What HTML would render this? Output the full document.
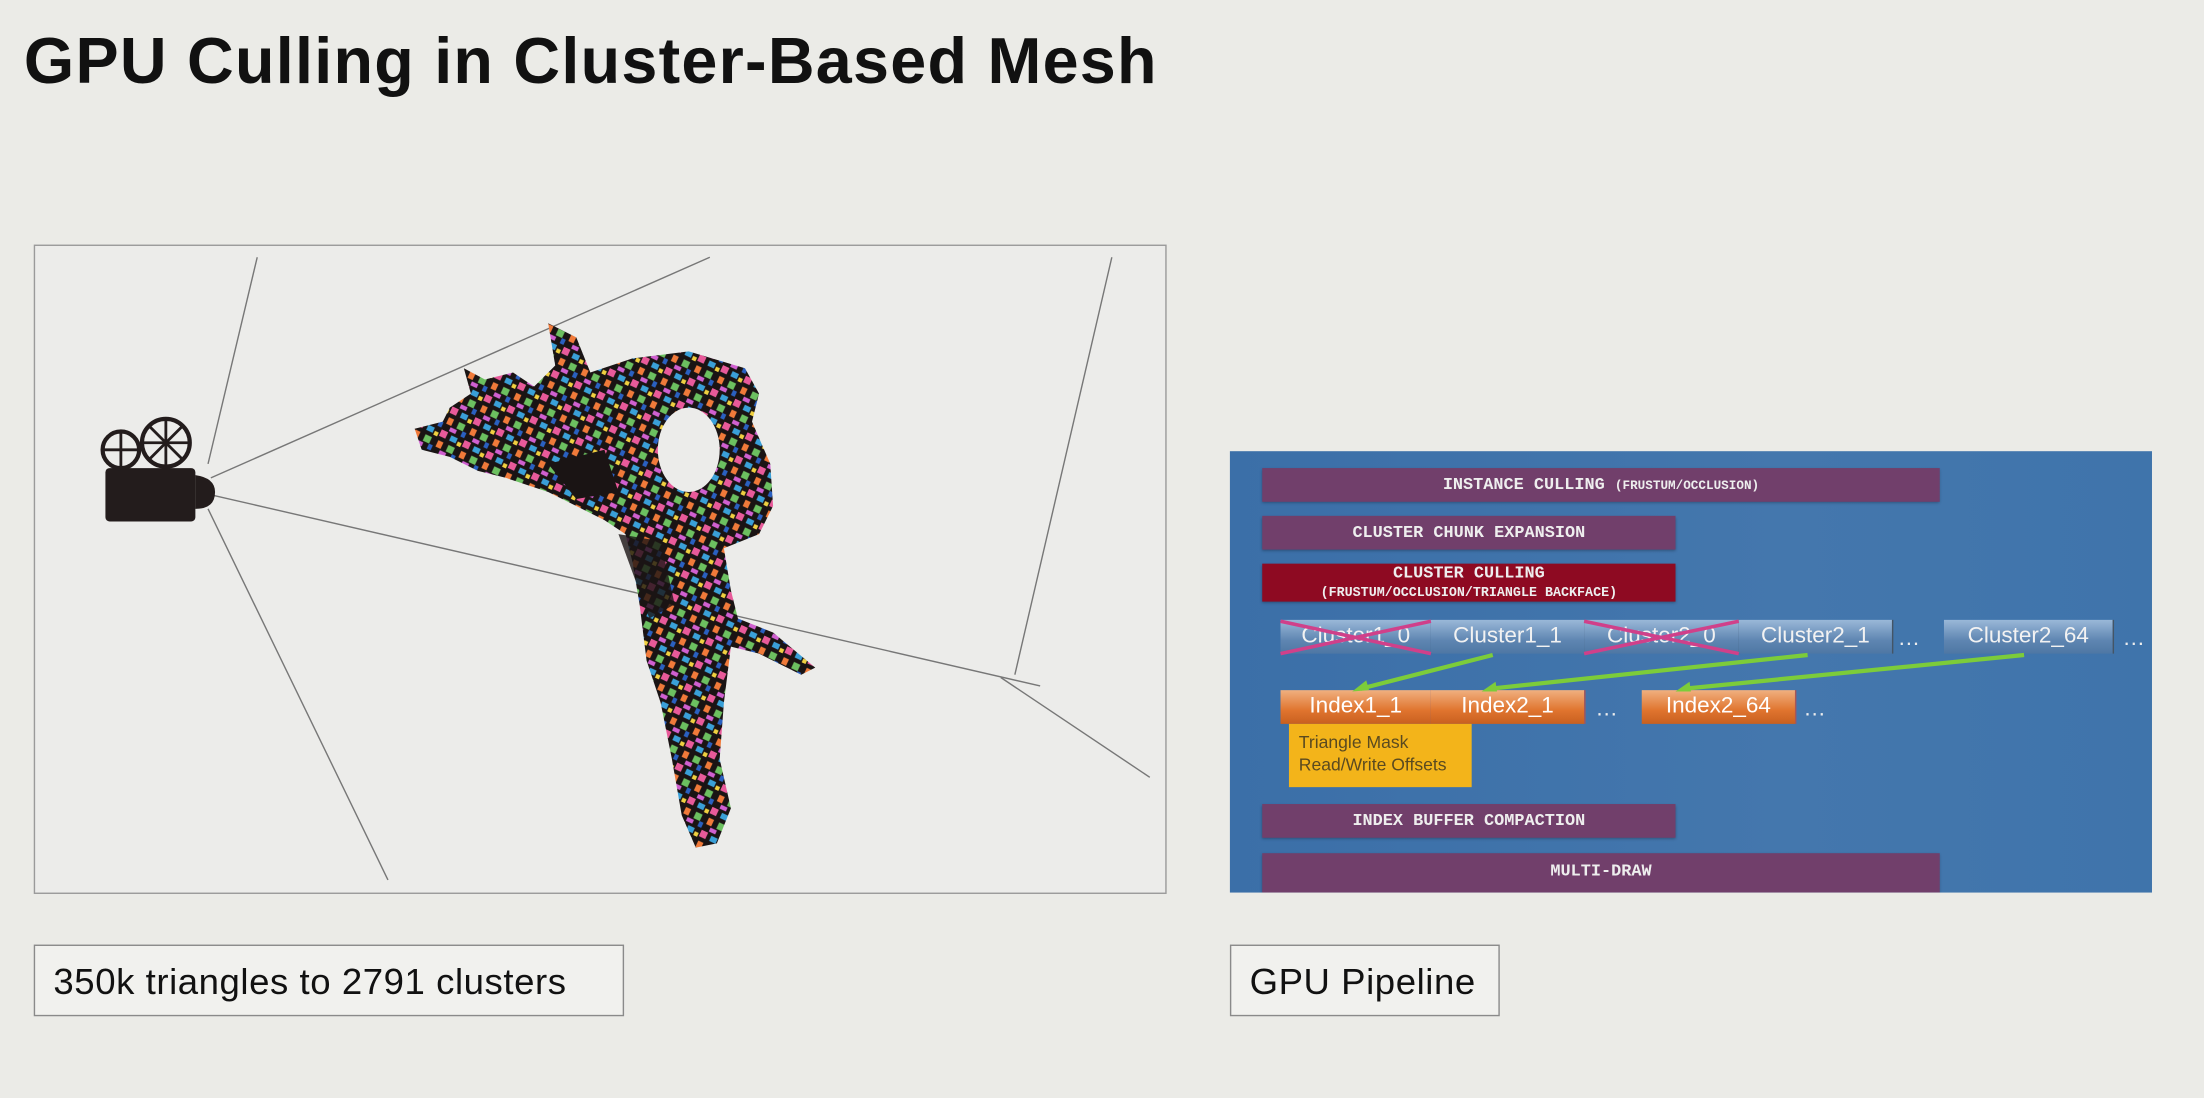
<!DOCTYPE html>
<html><head><meta charset="utf-8"><style>
html,body{margin:0;padding:0;width:2204px;height:1098px;overflow:hidden;background:#ebebe7;}
#s{position:absolute;left:0;top:0;width:1568px;height:781px;transform:scale(1.40561);transform-origin:0 0;font-family:"Liberation Sans",sans-serif;}
.t{position:absolute;left:17px;top:16px;font-size:46px;font-weight:bold;color:#111;letter-spacing:0.9px}
.cap{position:absolute;border:1px solid #8a8a8a;background:#f1f1ee;font-size:26px;color:#111;line-height:50px;padding-left:13px;box-sizing:border-box;letter-spacing:0.4px}
.bar{position:absolute;background:#713f6b;color:#eee;font-family:"Liberation Mono",monospace;font-size:12px;font-weight:bold;text-align:center;box-shadow:0 1px 2px rgba(0,0,0,.3)}
.cl{position:absolute;top:441px;height:24px;background:linear-gradient(#9ab8d8,#5f86b2 60%,#4e77a4);color:#f2f2f2;font-size:16px;text-align:center;line-height:24px;border-right:1px solid #456}
.ix{position:absolute;top:491px;height:24px;background:linear-gradient(#f0b080,#e0742e 60%,#c86020);color:#fff;font-size:16px;text-align:center;line-height:24px;border-right:1px solid #a55}
.dots{position:absolute;color:#eee;font-size:16px}
</style></head><body><div id="s">
<div class="t">GPU Culling in Cluster-Based Mesh</div>
<div style="position:absolute;left:24px;top:174px;width:806px;height:462px;border:1px solid #9a9a9a;box-sizing:border-box;background:#ececea"></div>
<svg style="position:absolute;left:0;top:0" width="1568" height="781">
<defs>
<pattern id="p" width="18" height="18" patternUnits="userSpaceOnUse" patternTransform="rotate(25)">
<rect width="18" height="18" fill="#1a1414"/>
<rect x="0" y="0" width="5" height="5" fill="#e85a9a"/><rect x="8" y="1" width="5" height="4" fill="#3aa0d8"/>
<rect x="1" y="8" width="4" height="5" fill="#f07a3a"/><rect x="9" y="8" width="5" height="5" fill="#6cc060"/>
<rect x="5" y="14" width="5" height="3" fill="#d060d0"/><rect x="14" y="13" width="3" height="4" fill="#2a60c0"/>
<rect x="14" y="3" width="3" height="3" fill="#f0d040"/>
</pattern>
</defs>
<g stroke="#777" stroke-width="1" fill="none">
<line x1="150" y1="340" x2="505" y2="183"/>
<line x1="150" y1="352" x2="740" y2="488"/>
<line x1="148" y1="330" x2="183" y2="183"/>
<line x1="148" y1="362" x2="276" y2="626"/>
<line x1="791" y1="183" x2="722" y2="480"/>
<line x1="712" y1="482" x2="818" y2="553"/>
</g>
<rect x="75" y="333" width="64" height="38" rx="3" fill="#231c1c"/>
<path d="M139 338 q14 2 14 12 q0 12 -14 12z" fill="#231c1c"/>
<circle cx="86" cy="320" r="13" fill="none" stroke="#231c1c" stroke-width="3"/>
<circle cx="118" cy="315" r="17" fill="none" stroke="#231c1c" stroke-width="3"/>
<g stroke="#231c1c" stroke-width="2"><line x1="74" y1="320" x2="98" y2="320"/><line x1="86" y1="308" x2="86" y2="332"/><line x1="102" y1="315" x2="134" y2="315"/><line x1="118" y1="299" x2="118" y2="331"/><line x1="106" y1="303" x2="130" y2="327"/><line x1="130" y1="303" x2="106" y2="327"/></g>
<path fill="url(#p)" d="M390 230 L410 240 L420 265 L450 255 L490 250 L530 262 L540 280 L535 300 L548 330 L550 360 L540 380 L515 390 L520 420 L525 440 L550 450 L580 475 L570 480 L540 465 L520 460 L515 500 L512 540 L520 575 L510 600 L495 603 L485 580 L478 540 L470 500 L460 470 L455 430 L450 400 L445 380 L430 370 L410 360 L390 350 L360 340 L340 335 L320 325 L300 320 L295 305 L315 300 L320 290 L335 280 L330 262 L345 270 L365 265 L380 275 L395 260Z"/>
<ellipse cx="490" cy="320" rx="22" ry="30" fill="#ececea"/>
<path d="M390 330 L430 320 L440 350 L410 355Z" fill="#1a1414"/>
<path d="M440 380 L470 385 L480 430 L462 440Z" fill="#1a1414" opacity="0.8"/>
</svg>
<div class="cap" style="left:24px;top:672px;width:420px;height:51px">350k triangles to 2791 clusters</div>
<div class="cap" style="left:875px;top:672px;width:192px;height:51px">GPU Pipeline</div>
<div style="position:absolute;left:875px;top:321px;width:656px;height:314px;background:linear-gradient(90deg,#3b6fa8,#4477ad 60%,#3f74ab);overflow:hidden">
<div class="bar" style="left:23px;top:12px;width:482px;height:24px;line-height:24px">INSTANCE CULLING <span style="font-size:9px">(FRUSTUM/OCCLUSION)</span></div>
<div class="bar" style="left:23px;top:46px;width:294px;height:24px;line-height:24px">CLUSTER CHUNK EXPANSION</div>
<div class="bar" style="left:23px;top:80px;width:294px;height:27px;background:#8e0a22;line-height:13px;font-size:12px;padding-top:1px;box-sizing:border-box">CLUSTER CULLING<br><span style="font-size:9.5px">(FRUSTUM/OCCLUSION/TRIANGLE BACKFACE)</span></div>
<div class="bar" style="left:23px;top:251px;width:294px;height:24px;line-height:24px">INDEX BUFFER COMPACTION</div>
<div class="bar" style="left:23px;top:286px;width:482px;height:30px;line-height:26px">MULTI-DRAW</div>
</div>
<div class="cl" style="left:911px;width:107px">Cluster1_0</div>
<div class="cl" style="left:1018px;width:109px">Cluster1_1</div>
<div class="cl" style="left:1127px;width:110px">Cluster2_0</div>
<div class="cl" style="left:1237px;width:109px">Cluster2_1</div>
<div class="cl" style="left:1383px;width:120px">Cluster2_64</div>
<div class="dots" style="left:1350px;top:446px">…</div>
<div class="dots" style="left:1510px;top:446px">…</div>
<div class="ix" style="left:911px;width:107px">Index1_1</div>
<div class="ix" style="left:1018px;width:109px">Index2_1</div>
<div class="ix" style="left:1168px;width:109px">Index2_64</div>
<div class="dots" style="left:1135px;top:496px">…</div>
<div class="dots" style="left:1283px;top:496px">…</div>
<div style="position:absolute;left:917px;top:515px;width:130px;height:45px;background:#f3b41a;color:#5a4a20;font-size:12.5px;line-height:16px;padding:5px 0 0 7px;box-sizing:border-box">Triangle Mask<br>Read/Write Offsets</div>
<svg style="position:absolute;left:0;top:0" width="1568" height="781">
<g stroke="#d0408a" stroke-width="2.5"><line x1="911" y1="442" x2="1018" y2="465"/><line x1="911" y1="465" x2="1018" y2="442"/><line x1="1127" y1="442" x2="1237" y2="465"/><line x1="1127" y1="465" x2="1237" y2="442"/></g>
<g stroke="#7ccc3a" stroke-width="3" fill="none"><line x1="1062" y1="466" x2="968" y2="490"/><line x1="1286" y1="466" x2="1060" y2="490"/><line x1="1440" y1="466" x2="1198" y2="490"/></g>
<g fill="#7ccc3a"><path d="M962 492 l10 -8 l2 7z"/><path d="M1054 492 l10 -7 l1 7z"/><path d="M1192 492 l10 -7 l1 7z"/></g>
</svg>
</div></body></html>
